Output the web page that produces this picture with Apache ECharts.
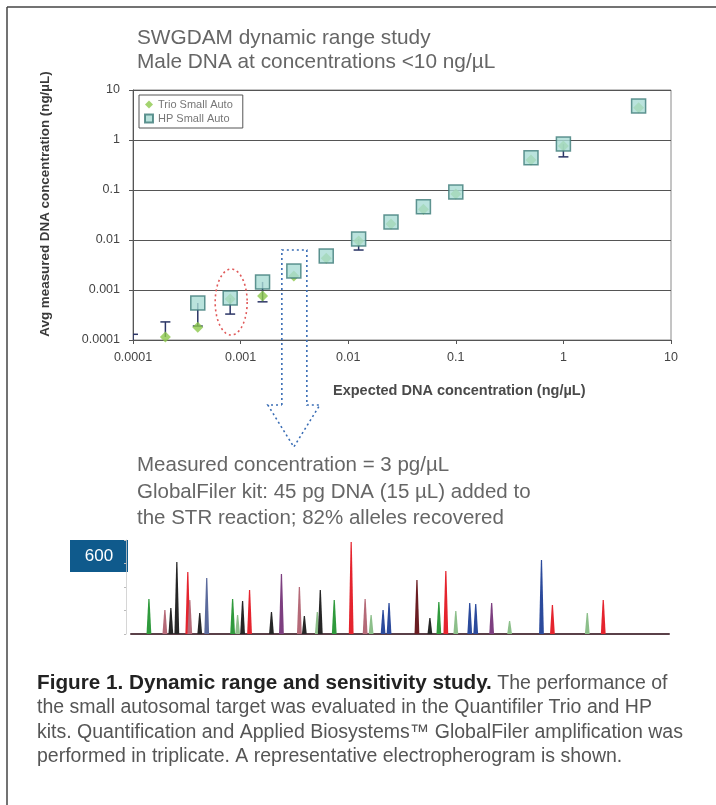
<!DOCTYPE html>
<html><head><meta charset="utf-8">
<script src="https://cdn.jsdelivr.net/npm/echarts@6/dist/echarts.min.js"></script>
<style>html,body{margin:0;padding:0;background:#fff}#c{width:716px;height:805px}</style>
</head><body><div id="c"></div>
<script>
// ---- data ----
const xTickLabels = ['0.0001', '0.001', '0.01', '0.1', '1', '10'];
const yTickLabels = ['0.0001', '0.001', '0.01', '0.1', '1', '10'];

const hpExpected = [0.0004, 0.0008, 0.0016, 0.003125, 0.00625, 0.0125, 0.025, 0.05, 0.1, 0.5, 1, 5];
const hpMeasured = [0.00055, 0.00069, 0.00145, 0.0024, 0.0048, 0.0105, 0.023, 0.046, 0.091, 0.44, 0.83, 4.8];

const trioExpected = [0.0002, 0.0004, 0.0008, 0.0016, 0.003125, 0.00625, 0.0125, 0.025, 0.05, 0.1, 0.5, 1, 5];
const trioMeasured = [0.000115, 0.00018, 0.00066, 0.00076, 0.0019, 0.0043, 0.0095, 0.021, 0.041, 0.083, 0.40, 0.76, 4.4];

const errExpected = [0.0001, 0.0002, 0.0004, 0.0008, 0.0016, 0.0125, 1];
const errFrom     = [0.0001, 0.000115, 0.00055, 0.00069, 0.00145, 0.0105, 0.83];
const errTo       = [0.00013, 0.00023, 0.00019, 0.00033, 0.00058, 0.0063, 0.46];

// electropherogram peaks: size (bp), height (RFU), dye
const peakSize = [78, 94, 100, 106, 117, 119, 129, 136, 162, 167, 172, 179, 201, 211, 229, 234, 247, 250, 264, 281, 295, 301, 313, 319, 347, 360, 369, 376, 386, 400, 406, 422, 440, 472, 483, 518, 534];
const peakRfu  = [223, 153, 166, 460, 396, 217, 134, 357, 223, 121, 211, 281, 140, 383, 300, 115, 140, 281, 217, 587, 223, 121, 153, 198, 345, 102, 204, 402, 147, 198, 191, 198, 83, 472, 185, 134, 217];
const peakDye  = ['green','pink','black','black','red','pink','black','slate','green','lightgreen','black','red','black','purple','pink','black','lightgreen','black','green','red','pink','lightgreen','blue','blue','darkred','black','green','red','lightgreen','blue','blue','purple','lightgreen','blue','red','lightgreen','red'];

// ---- styles ----
const dyeColor = {green:'#2f9a3c', pink:'#b56a78', black:'#262626', red:'#e5242e', slate:'#5b6a9c', lightgreen:'#8cbf8a', purple:'#7d3f80', blue:'#2b4a9c', darkred:'#6a1d22'};
const FONT = '"Liberation Sans", Arial, sans-serif';

const chart = echarts.init(document.getElementById('c'), null, {renderer:'canvas'});

function logLabel(arr){ return v => arr[Math.round(Math.log10(v)) + 4] || ''; }

const option = {
  backgroundColor:'#fff',
  animation:false,
  grid:[
    {left:133, right:45, top:90, bottom:465, show:true, borderColor:'#8a8a8a', borderWidth:1, containLabel:false},
    {left:131, right:47, top:540, bottom:171, containLabel:false}
  ],
  legend:{
    data:['Trio Small Auto','HP Small Auto'],
    orient:'vertical', left:139, top:95,
    padding:[4,10,4,5], itemGap:3, itemWidth:8, itemHeight:8,
    borderColor:'#555', borderWidth:1, backgroundColor:'#fff',
    textStyle:{fontSize:11, color:'#777', fontFamily:FONT}
  },
  xAxis:[
    {type:'log', logBase:10, min:0.0001, max:10, gridIndex:0,
     axisLine:{show:true, lineStyle:{color:'#555'}},
     axisTick:{show:true, length:4, lineStyle:{color:'#555'}},
     minorTick:{show:false}, splitLine:{show:false},
     axisLabel:{formatter:logLabel(xTickLabels), fontSize:12.5, color:'#444', margin:11, fontFamily:FONT}},
    {type:'value', min:60, max:600, gridIndex:1,
     axisLine:{show:true, lineStyle:{color:'#5a4048', width:2}},
     axisTick:{show:false}, axisLabel:{show:false}, splitLine:{show:false}}
  ],
  yAxis:[
    {type:'log', logBase:10, min:0.0001, max:10, gridIndex:0,
     axisLine:{show:true, lineStyle:{color:'#555'}},
     axisTick:{show:true, length:4, lineStyle:{color:'#555'}},
     minorTick:{show:false},
     splitLine:{show:true, lineStyle:{color:'#555', width:1}},
     axisLabel:{formatter:logLabel(yTickLabels), fontSize:12.5, color:'#444', margin:13, fontFamily:FONT}},
    {type:'value', min:0, max:600, interval:150, gridIndex:1, offset:5,
     axisLine:{show:true, lineStyle:{color:'#ccc', width:0.8}},
     axisTick:{show:true, length:2, lineStyle:{color:'#bbb'}},
     axisLabel:{show:false}, splitLine:{show:false}}
  ],
  series:[
    {type:'custom', name:'err', xAxisIndex:0, yAxisIndex:0, clip:true, z:2,
     encode:{x:0, y:[1,2]},
     data: errExpected.map((x,i)=>[x, errFrom[i], errTo[i]]),
     renderItem(params, api){
       const p0 = api.coord([api.value(0), api.value(1)]);
       const p1 = api.coord([api.value(0), api.value(2)]);
       const st = {stroke:'#2b3566', lineWidth:1.5};
       return {type:'group', children:[
         {type:'line', shape:{x1:p0[0], y1:p0[1], x2:p1[0], y2:p1[1]}, style:st},
         {type:'line', shape:{x1:p1[0]-5, y1:p1[1], x2:p1[0]+5, y2:p1[1]}, style:st}
       ]};
     }},
    {type:'scatter', name:'Trio Small Auto', xAxisIndex:0, yAxisIndex:0, z:3,
     symbol:'diamond', symbolSize:[11,11],
     itemStyle:{color:'#8cc84b'},
     data: trioExpected.map((x,i)=>[x, trioMeasured[i]])},
    {type:'scatter', name:'HP Small Auto', xAxisIndex:0, yAxisIndex:0, z:4,
     symbol:'rect', symbolSize:14,
     itemStyle:{color:'#a9dcd4', borderColor:'#3c7a78', borderWidth:1.5},
     data: hpExpected.map((x,i)=>[x, hpMeasured[i]])},
    {type:'custom', name:'epg', xAxisIndex:1, yAxisIndex:1, clip:false, z:2,
     encode:{x:0, y:1},
     data: peakSize.map((s,i)=>[s, peakRfu[i]]),
     renderItem(params, api){
       const top = api.coord([api.value(0), api.value(1)]);
       const base = api.coord([api.value(0), 0]);
       return {type:'polygon', shape:{points:[[base[0]-2.4, base[1]],[top[0]-0.6, top[1]],[top[0]+0.6, top[1]],[base[0]+2.4, base[1]]]},
               style:{fill: dyeColor[peakDye[params.dataIndex]]}};
     }}
  ]
};
chart.setOption(option);

// ---- annotations, anchored to data points ----
const pE = chart.convertToPixel({xAxisIndex:0, yAxisIndex:0}, [hpExpected[1], hpMeasured[1]]);
const pA = chart.convertToPixel({xAxisIndex:0, yAxisIndex:0}, [hpExpected[3], hpMeasured[3]]);
const ell = [];
for (let k=0;k<=72;k++){ const t=k/72*2*Math.PI; ell.push([pE[0]+1+16*Math.cos(t), pE[1]+4+33*Math.sin(t)]); }
const ax = pA[0], ay = pA[1];
const arrow = [[ax-12, 405],[ax-12, ay-21],[ax+13, ay-21],[ax+13, 405],[ax+26, 405],[ax, 447],[ax-26, 405],[ax-12, 405]];

const txt = (text, x, y, size, fill, extra) => Object.assign({type:'text', x, y, silent:true,
  style:Object.assign({text, fontSize:size, fontFamily:FONT, fill, textVerticalAlign:'middle'}, extra||{})});

chart.setOption({graphic:[
  {type:'line', shape:{x1:7, y1:7, x2:716, y2:7}, style:{stroke:'#444', lineWidth:1.5}},
  {type:'line', shape:{x1:7, y1:7, x2:7, y2:805}, style:{stroke:'#444', lineWidth:1.5}},
  txt('SWGDAM dynamic range study', 137, 38, 20.8, '#666'),
  txt('Male DNA at concentrations <10 ng/µL', 137, 62, 20.8, '#666'),
  {type:'text', x:45, y:204, rotation:Math.PI/2, silent:true,
   style:{text:'Avg measured DNA concentration (ng/µL)', fontSize:13.4, fontWeight:'bold', fontFamily:FONT, fill:'#3a3a3a', textAlign:'center', textVerticalAlign:'middle'}},
  {type:'polyline', shape:{points:ell}, style:{stroke:'#e05a5a', lineWidth:1.6, lineDash:[2,3], fill:null}, z:10},
  {type:'polyline', shape:{points:arrow}, style:{stroke:'#3a6db5', lineWidth:1.6, lineDash:[2,3], fill:null}, z:10},
  txt('Expected DNA concentration (ng/µL)', 333, 391, 14.5, '#4a4a4a', {fontWeight:'bold'}),
  txt('Measured concentration = 3 pg/µL', 137, 465, 20.5, '#666'),
  txt('GlobalFiler kit: 45 pg DNA (15 µL) added to', 137, 492, 20.5, '#666'),
  txt('the STR reaction; 82% alleles recovered', 137, 518, 20.5, '#666'),
  {type:'rect', shape:{x:70, y:540, width:58, height:32}, style:{fill:'#0f5a8c'}},
  txt('600', 99, 556, 17, '#fff', {textAlign:'center'}),
  {type:'text', x:37, y:671, silent:true, style:{
    text:'{b|Figure 1. Dynamic range and sensitivity study.} The performance of\nthe small autosomal target was evaluated in the Quantifiler Trio and HP\nkits. Quantification and Applied Biosystems™ GlobalFiler amplification was\nperformed in triplicate. A representative electropherogram is shown.',
    fontSize:19.5, fontFamily:FONT, fill:'#555', lineHeight:24.5, textVerticalAlign:'top',
    rich:{b:{fontSize:20.7, fontFamily:FONT, fontWeight:'bold', fill:'#222', lineHeight:24.5}}
  }}
]});
</script></body></html>
